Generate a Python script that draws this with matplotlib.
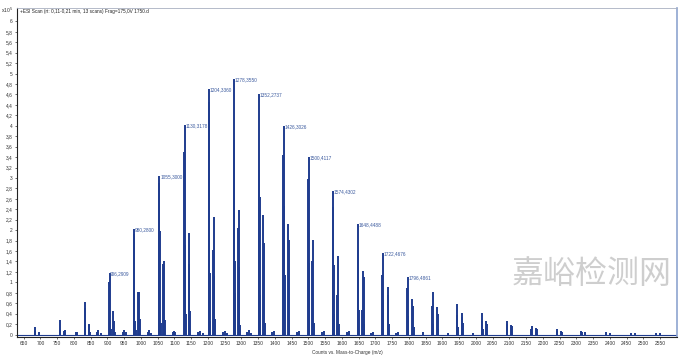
import matplotlib
matplotlib.use("Agg")
import matplotlib.pyplot as plt

plt.rcParams['font.family'] = ['Liberation Sans', 'DejaVu Sans']

# stick spectrum, intensity in units of 1e5 counts
peak_mz = [684.2, 685.2, 694.5,
           758.3, 759.5, 770.5, 772.5, 807, 809,
           831.5, 832.3, 833.5, 844, 846, 848, 870, 872, 880,
           905.5, 906.3, 908, 911, 918, 920, 922, 946, 950, 955,
           979.5, 980.3, 982, 984, 992, 993.5, 996, 1020, 1025, 1030,
           1054.5, 1055.3, 1056.5, 1058.5, 1067, 1068.5, 1071, 1095, 1100, 1103,
           1129.5, 1130.3, 1131.5, 1133, 1142, 1144, 1146, 1170, 1175, 1185,
           1203.5, 1204.3, 1205.5, 1207, 1216, 1218, 1219, 1221, 1244, 1250, 1257,
           1277.5, 1278.4, 1279.5, 1281, 1290, 1291.5, 1293, 1295, 1318, 1324, 1330,
           1351.5, 1352.3, 1354, 1355.5, 1365, 1367, 1369, 1392, 1398,
           1425.5, 1426.3, 1427.5, 1429, 1438, 1440.5, 1443, 1466, 1472,
           1499.5, 1500.4, 1501.5, 1503, 1512, 1514, 1517, 1540, 1546,
           1573.5, 1574.4, 1575.5, 1577, 1586, 1589, 1591, 1614, 1620,
           1646.5, 1648.4, 1650, 1660, 1662, 1665, 1667, 1688, 1694,
           1720.5, 1722.5, 1724, 1736, 1738, 1741, 1762, 1768,
           1795.5, 1796.5, 1798, 1809, 1812, 1814, 1842,
           1869.5, 1870.5, 1872, 1883, 1886, 1888, 1916,
           1943.5, 1944.5, 1946, 1957, 1959, 1961, 1990,
           2017.5, 2018.5, 2020, 2031, 2034,
           2091.5, 2092.6, 2105, 2108,
           2165.5, 2166.6, 2179, 2182,
           2240.6, 2242, 2253, 2256,
           2314.6, 2316, 2327,
           2388.6, 2401,
           2462.7, 2475,
           2536.7, 2549]
peak_int = [0.15, 0.06, 0.04,
            0.28, 0.08, 0.06, 0.08, 0.05, 0.04,
            0.50, 0.62, 0.20, 0.20, 0.18, 0.05, 0.04, 0.08, 0.03,
            1.00, 1.18, 0.28, 0.10, 0.46, 0.25, 0.05, 0.05, 0.08, 0.04,
            1.93, 2.02, 0.25, 0.08, 0.82, 0.82, 0.30, 0.05, 0.08, 0.03,
            2.90, 3.04, 1.98, 0.22, 1.35, 1.40, 0.28, 0.05, 0.07, 0.04,
            3.50, 4.01, 1.72, 0.40, 1.95, 1.35, 0.45, 0.04, 0.06, 0.03,
            4.45, 4.70, 1.18, 0.25, 1.62, 2.25, 1.12, 0.30, 0.04, 0.06, 0.03,
            3.73, 4.90, 1.41, 0.80, 2.04, 2.39, 1.30, 0.18, 0.05, 0.08, 0.03,
            3.15, 4.61, 2.64, 0.76, 2.29, 1.75, 0.22, 0.04, 0.07,
            3.45, 4.00, 2.46, 1.14, 2.11, 1.81, 0.28, 0.04, 0.07,
            2.98, 3.40, 1.37, 0.50, 1.40, 1.81, 0.22, 0.04, 0.06,
            2.45, 2.75, 1.34, 0.40, 0.76, 1.51, 0.20, 0.04, 0.06,
            1.62, 2.12, 0.47, 0.47, 1.21, 1.11, 0.20, 0.03, 0.05,
            1.14, 1.56, 0.66, 0.91, 0.76, 0.20, 0.03, 0.05,
            0.90, 1.11, 0.35, 0.68, 0.55, 0.15, 0.04,
            0.55, 0.82, 0.20, 0.52, 0.40, 0.10, 0.03,
            0.38, 0.59, 0.15, 0.42, 0.34, 0.23, 0.02,
            0.25, 0.41, 0.10, 0.26, 0.20,
            0.20, 0.26, 0.18, 0.16,
            0.10, 0.17, 0.12, 0.10,
            0.11, 0.07, 0.07, 0.05,
            0.07, 0.04, 0.05,
            0.04, 0.03,
            0.03, 0.025,
            0.025, 0.02]

# labelled peaks
label_mz = [906.2909, 980.2800, 1055.3000, 1130.3178, 1204.3360, 1278.3550, 1352.2737,
            1426.3026, 1500.4117, 1574.4302, 1648.4488, 1722.4676, 1796.4861]
label_int = [1.18, 2.02, 3.04, 4.01, 4.70, 4.90, 4.61, 4.00, 3.40, 2.75, 2.12, 1.56, 1.11]

x_ticks = list(range(650, 2551, 50))
y_ticks = [i / 5 for i in range(31)]

fig = plt.figure(figsize=(6.8, 3.58), dpi=100)
ax = fig.add_axes([0.025, 0.059, 0.9705, 0.919])

blue = '#1f3c8e'
ax.vlines(peak_mz, 0, peak_int, color=blue, linewidth=1.4)
ax.axhline(0, color=blue, linewidth=0.8)

for m, h in zip(label_mz, label_int):
    ax.text(m + 2, h + 0.03, f'{m:.4f}'.replace('.', ','), fontsize=3.4,
            color='#3b5a9e', ha='left', va='top')

ax.set_xlim(630, 2600)
ax.set_ylim(-0.045, 6.26)
ax.set_xticks(x_ticks)
ax.set_xticklabels([str(v) for v in x_ticks])
ax.set_yticks(y_ticks)
ax.set_yticklabels([f'{v:g}'.replace('.', ',') for v in y_ticks])
ax.tick_params(labelsize=3.5, length=1.5, width=0.5, pad=1.5, colors='#333333')

ax.spines['left'].set_color('#222222')
ax.spines['left'].set_linewidth(0.8)
ax.spines['bottom'].set_color('#222222')
ax.spines['bottom'].set_linewidth(0.8)
ax.spines['top'].set_color('#a8b0c0')
ax.spines['top'].set_linewidth(0.6)
ax.spines['right'].set_color('#8ea4d0')
ax.spines['right'].set_linewidth(1.2)

ax.text(0.004, 0.997, '+ESI Scan (rt: 0,11-0,21 min, 13 scans) Frag=175,0V 1750.d',
        transform=ax.transAxes, fontsize=3.4, color='#222222', ha='left', va='top')
ax.set_xlabel('Counts vs. Mass-to-Charge (m/z)', fontsize=3.4, color='#333333', labelpad=2.5)
fig.text(0.002, 0.972, 'x10$^5$', fontsize=3.6, color='#333333', ha='left', va='center')

# watermark
fig.text(0.87, 0.235, '嘉峪检测网', fontsize=23, color='#c9c9c9', ha='center', va='center',
         family=['Noto Sans CJK SC', 'DejaVu Sans'], alpha=0.9)

fig.savefig('out.png', dpi=100)
